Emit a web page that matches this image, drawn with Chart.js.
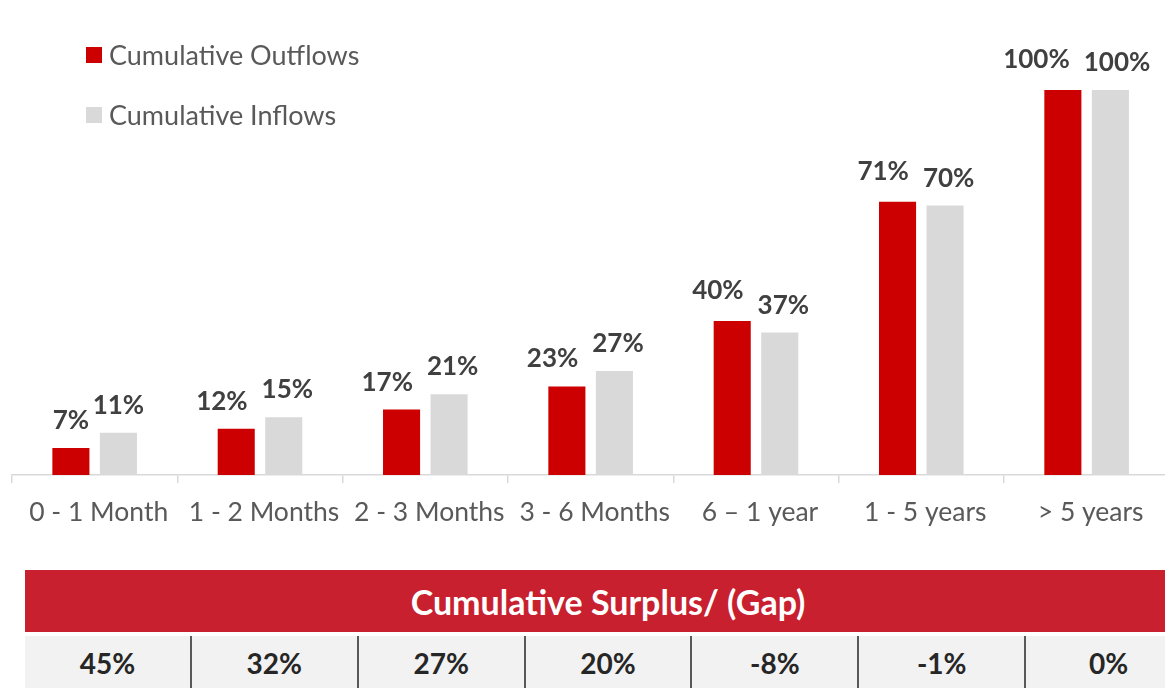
<!DOCTYPE html>
<html><head><meta charset="utf-8">
<script src="https://cdn.jsdelivr.net/npm/chart.js@4.4.1/dist/chart.umd.min.js"></script>
<style>
html,body{margin:0;padding:0;background:#fff;overflow:hidden;width:1165px;height:688px;position:relative;}
#wrap{position:absolute;left:0;top:0;width:1180px;height:560px;}
#tbl{position:absolute;left:25px;top:570px;width:1166px;font-family:Lato,"Open Sans",sans-serif;}
.banner{height:62px;background:#C8202F;color:#fff;font-weight:bold;font-size:34px;display:flex;align-items:center;justify-content:center;}
.row{margin-top:4px;height:54px;background:#F2F2F2;display:flex;}
.cell{flex:1;display:flex;align-items:center;justify-content:center;font-weight:bold;font-size:28px;color:#262626;border-left:2px solid #595959;}
.cell:first-child{border-left:none;}
</style>
</head><body>
<div id="wrap"><canvas id="c" width="1180" height="560"></canvas></div>
<div id="tbl"><div class="banner" id="ttl"></div><div class="row" id="row"></div></div>
<script>
const categories = ['0 - 1 Month','1 - 2 Months','2 - 3 Months','3 - 6 Months','6 \u2013 1 year','1 - 5 years','> 5 years'];
const outflows = [7,12,17,23,40,71,100];
const inflows = [11,15,21,27,37,70,100];
const seriesNames = ['Cumulative Outflows','Cumulative Inflows'];
const gapTitle = 'Cumulative Surplus/ (Gap)';
const gapLabels = ['45%','32%','27%','20%','-8%','-1%','0%'];

document.getElementById('ttl').textContent = gapTitle;
const row = document.getElementById('row');
gapLabels.forEach(g => { const d = document.createElement('div'); d.className='cell'; d.textContent = g; row.appendChild(d); });

const FONT = 'Lato, "Open Sans", sans-serif';

const labelPlugin = {
  id: 'barLabels',
  afterDatasetsDraw(chart) {
    const ctx = chart.ctx;
    const m0 = chart.getDatasetMeta(0), m1 = chart.getDatasetMeta(1);
    ctx.save();
    ctx.font = 'bold 26px ' + FONT;
    ctx.fillStyle = '#404040';
    ctx.textAlign = 'center';
    ctx.textBaseline = 'alphabetic';
    for (let i = 0; i < categories.length; i++) {
      const e0 = m0.data[i], e1 = m1.data[i];
      const t0 = chart.data.datasets[0].data[i] + '%';
      const t1 = chart.data.datasets[1].data[i] + '%';
      let x0 = e0.x, x1 = e1.x;
      let y0 = e0.y - 19, y1 = e1.y - 19;
      const w0 = ctx.measureText(t0).width, w1 = ctx.measureText(t1).width;
      if (Math.abs(y0 - y1) < 19) {
        const ov = (x0 + w0/2) - (x1 - w1/2);
        if (ov > 0) { const s = ov + 14; x0 -= s*0.8; x1 += s*0.2; if (y0 <= y1) y0 -= 3; }
      }
      ctx.fillText(t0, x0, y0);
      ctx.fillText(t1, x1, y1);
    }
    ctx.restore();
  }
};

const legendPlugin = {
  id: 'sideLegend',
  afterDraw(chart) {
    const ctx = chart.ctx;
    ctx.save();
    ctx.font = '27px ' + FONT;
    ctx.textBaseline = 'middle';
    ctx.textAlign = 'left';
    chart.data.datasets.forEach((ds, k) => {
      const cy = 55 + k*60;
      ctx.fillStyle = ds.backgroundColor;
      ctx.fillRect(86, cy - 8, 16, 16);
      ctx.fillStyle = '#595959';
      ctx.fillText(ds.label, 109, cy + 1);
    });
    ctx.restore();
  }
};

new Chart(document.getElementById('c'), {
  type: 'bar',
  data: {
    labels: categories,
    datasets: [
      { label: seriesNames[0], data: outflows, backgroundColor: '#CC0000' },
      { label: seriesNames[1], data: inflows, backgroundColor: '#D9D9D9' }
    ]
  },
  options: {
    responsive: false,
    animation: false,
    devicePixelRatio: 1,
    layout: { padding: { left: 12, right: 10.7, top: 13, bottom: 25 } },
    datasets: { bar: { categoryPercentage: 0.575, barPercentage: 0.78 } },
    plugins: { legend: { display: false }, tooltip: { enabled: false } },
    scales: {
      x: {
        afterFit(axis) { axis.height = 60; },
        grid: { display: true, drawOnChartArea: false, drawTicks: true, tickLength: 8, color: '#D9D9D9', lineWidth: 1.5, offset: true },
        border: { display: true, color: '#D9D9D9', width: 1.5 },
        ticks: { color: '#595959', font: { family: FONT, size: 26.5 }, padding: 14, labelOffset: 4, maxRotation: 0, autoSkip: false }
      },
      y: { display: false, min: 0, max: 120 }
    }
  },
  plugins: [labelPlugin, legendPlugin]
});
</script>
</body></html>
